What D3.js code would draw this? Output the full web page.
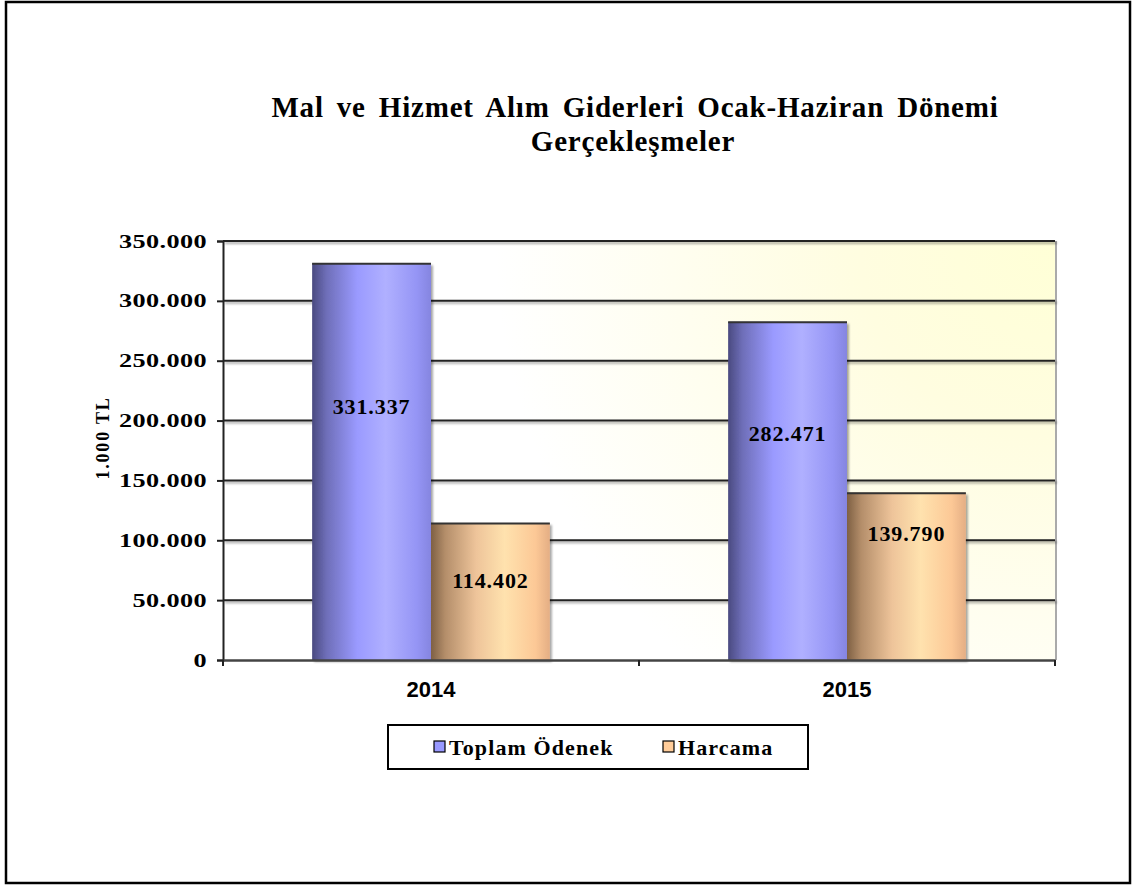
<!DOCTYPE html>
<html>
<head>
<meta charset="utf-8">
<script src="https://cdn.jsdelivr.net/npm/d3@7"></script>
<style>
  body { margin: 0; background: #fff; }
  svg { display: block; }
</style>
</head>
<body>
<div id="chart"></div>
<script>
// data
const years = ["2014", "2015"];
const seriesNames = ["Toplam Ödenek", "Harcama"];
const toplamOdenek = [331337, 282471];
const harcama = [114402, 139790];
const yTicks = [0, 50000, 100000, 150000, 200000, 250000, 300000, 350000];

const W = 1133, H = 886;
const plot = { left: 223, right: 1055, top: 241, bottom: 660 };
const serif = "'Liberation Serif', 'Times New Roman', serif";

const svg = d3.select("#chart").append("svg")
  .attr("width", W).attr("height", H);

const defs = svg.append("defs");

// background of the plot area
const bg = defs.append("radialGradient").attr("id", "bgGrad")
  .attr("gradientUnits", "userSpaceOnUse")
  .attr("cx", plot.right).attr("cy", plot.top).attr("r", 560)
  .attr("fx", plot.right).attr("fy", plot.top);
bg.append("stop").attr("offset", "0%").attr("stop-color", "#ffffd6");
bg.append("stop").attr("offset", "35%").attr("stop-color", "#fffde0");
bg.append("stop").attr("offset", "100%").attr("stop-color", "#ffffff");

function barGrad(id, stops) {
  const g = defs.append("linearGradient").attr("id", id)
    .attr("x1", "0%").attr("x2", "100%").attr("y1", "0%").attr("y2", "0%");
  stops.forEach(s => g.append("stop").attr("offset", s[0]).attr("stop-color", s[1]));
}
barGrad("blueGrad", [["0%", "#4a4a80"], ["12%", "#6e6eb8"], ["38%", "#9a9aff"], ["62%", "#b0b0ff"], ["88%", "#9595f5"], ["100%", "#8585e0"]]);
barGrad("orangeGrad", [["0%", "#7e6044"], ["12%", "#b48e6a"], ["38%", "#eec49a"], ["62%", "#ffe2ae"], ["88%", "#fcc896"], ["100%", "#e4ae84"]]);

const shadow = defs.append("filter").attr("id", "shadow")
  .attr("x", "-10%").attr("y", "-10%").attr("width", "130%").attr("height", "130%");
shadow.append("feDropShadow").attr("dx", 2).attr("dy", 2).attr("stdDeviation", 1)
  .attr("flood-color", "#000").attr("flood-opacity", 0.35);

// outer frame
svg.append("rect")
  .attr("x", 6).attr("y", 2).attr("width", 1124).attr("height", 881)
  .attr("fill", "#fff").attr("stroke", "#000").attr("stroke-width", 2.5);

// title
const title = svg.append("text")
  .attr("text-anchor", "middle")
  .style("font-family", serif)
  .style("font-weight", "bold")
  .style("font-size", "29px")
  .style("letter-spacing", "0.8px")
  .style("word-spacing", "5px");
title.append("tspan").attr("x", 635).attr("y", 117).text("Mal ve Hizmet Alım Giderleri Ocak-Haziran Dönemi");
title.append("tspan").attr("x", 633).attr("y", 151).text("Gerçekleşmeler");

const x0 = d3.scaleBand().domain(years).range([plot.left, plot.right]).paddingInner(0).paddingOuter(0);
const x1 = d3.scaleBand().domain(seriesNames).range([0, x0.bandwidth()]).paddingInner(0).paddingOuter(0.75);
const y = d3.scaleLinear().domain([0, 350000]).range([plot.bottom, plot.top]);

// plot background
svg.append("rect")
  .attr("x", plot.left).attr("y", plot.top)
  .attr("width", plot.right - plot.left).attr("height", plot.bottom - plot.top)
  .attr("fill", "url(#bgGrad)");

// right edge of plot area
svg.append("line")
  .attr("x1", plot.right + 1).attr("x2", plot.right + 1)
  .attr("y1", plot.top).attr("y2", plot.bottom)
  .attr("stroke", "#aaa").attr("stroke-width", 2);

// gridlines
const grid = svg.append("g").attr("filter", "url(#shadow)");
grid.selectAll("line")
  .data(yTicks.filter(d => d > 0))
  .enter().append("line")
  .attr("x1", plot.left).attr("x2", plot.right)
  .attr("y1", d => y(d)).attr("y2", d => y(d))
  .attr("stroke", "#222").attr("stroke-width", 2);

// bars
const rows = years.map((yr, i) => ({ year: yr, values: [toplamOdenek[i], harcama[i]] }));
const fills = ["url(#blueGrad)", "url(#orangeGrad)"];
// vertical position of each value label, as fraction of bar height from top
const labelFrac = [[0.36, 0.42], [0.33, 0.24]];

const groups = svg.selectAll("g.year")
  .data(rows).enter().append("g")
  .attr("class", "year")
  .attr("transform", d => `translate(${x0(d.year)},0)`);

groups.each(function(d, gi) {
  const g = d3.select(this);
  d.values.forEach((v, si) => {
    const bx = x1(seriesNames[si]);
    const bw = x1.bandwidth();
    g.append("rect")
      .attr("x", bx).attr("y", y(v))
      .attr("width", bw).attr("height", y(0) - y(v))
      .attr("fill", fills[si])
      .attr("filter", "url(#shadow)");
    g.append("line")
      .attr("x1", bx).attr("x2", bx + bw)
      .attr("y1", y(v) + 0.5).attr("y2", y(v) + 0.5)
      .attr("stroke", "#333").attr("stroke-width", 2);
    const ly = y(v) + (y(0) - y(v)) * labelFrac[gi][si];
    g.append("text")
      .attr("x", bx + bw / 2).attr("y", ly)
      .attr("dy", "0.35em")
      .attr("text-anchor", "middle")
      .style("font-family", serif)
      .style("font-weight", "bold")
      .style("font-size", "22px")
      .style("letter-spacing", "0.9px")
      .text(d3.format(",")(v).replace(/,/g, "."));
  });
});

// y axis
const yAxis = svg.append("g")
  .attr("transform", `translate(${plot.left},0)`)
  .call(d3.axisLeft(y).tickValues(yTicks).tickSize(6).tickPadding(12)
    .tickFormat(d => d === 0 ? "0" : d3.format(",")(d).replace(/,/g, ".")));
yAxis.select(".domain").attr("stroke", "#222").attr("stroke-width", 2);
yAxis.selectAll(".tick line").attr("stroke", "#222").attr("stroke-width", 2);
// labels are drawn wide in the original, so stretch them horizontally
const tickStretch = 1.38;
yAxis.selectAll(".tick text")
  .attr("x", -16 / tickStretch)
  .attr("transform", `scale(${tickStretch},1)`)
  .style("font-family", serif)
  .style("font-weight", "bold")
  .style("font-size", "19px")
  .style("letter-spacing", "0.3px")
  .attr("fill", "#000");

// x axis
const xAxis = svg.append("g")
  .attr("transform", `translate(0,${plot.bottom})`)
  .call(d3.axisBottom(x0).tickSize(0).tickPadding(21));
xAxis.select(".domain").attr("stroke", "#444").attr("stroke-width", 2.5);
xAxis.selectAll("text")
  .style("font-family", "'Liberation Sans', Arial, sans-serif")
  .style("font-weight", "bold")
  .style("font-size", "22px")
  .attr("fill", "#000");
// category separators on x axis
xAxis.selectAll("line.sep")
  .data([plot.left, x0(years[1]), plot.right])
  .enter().append("line")
  .attr("class", "sep")
  .attr("x1", d => d).attr("x2", d => d)
  .attr("y1", 0).attr("y2", 6)
  .attr("stroke", "#222").attr("stroke-width", 2);

// y axis title
svg.append("text")
  .attr("transform", `translate(109,438) rotate(-90)`)
  .attr("text-anchor", "middle")
  .style("font-family", serif)
  .style("font-weight", "bold")
  .style("font-size", "18px")
  .style("letter-spacing", "1.8px")
  .text("1.000 TL");

// legend
const legend = svg.append("g");
legend.append("rect")
  .attr("x", 388).attr("y", 725).attr("width", 420).attr("height", 44)
  .attr("fill", "#fff").attr("stroke", "#000").attr("stroke-width", 2);
const legendX = [434, 663];
const legendColors = ["#9999ff", "#ffcc99"];
seriesNames.forEach((name, i) => {
  legend.append("rect")
    .attr("x", legendX[i]).attr("y", 741).attr("width", 11).attr("height", 11)
    .attr("fill", legendColors[i]).attr("stroke", "#000").attr("stroke-width", 1.2);
  legend.append("text")
    .attr("x", legendX[i] + 15).attr("y", 755)
    .style("font-family", serif)
    .style("font-weight", "bold")
    .style("font-size", "22px")
    .style("letter-spacing", "1.1px")
    .text(name);
});
</script>
</body>
</html>
